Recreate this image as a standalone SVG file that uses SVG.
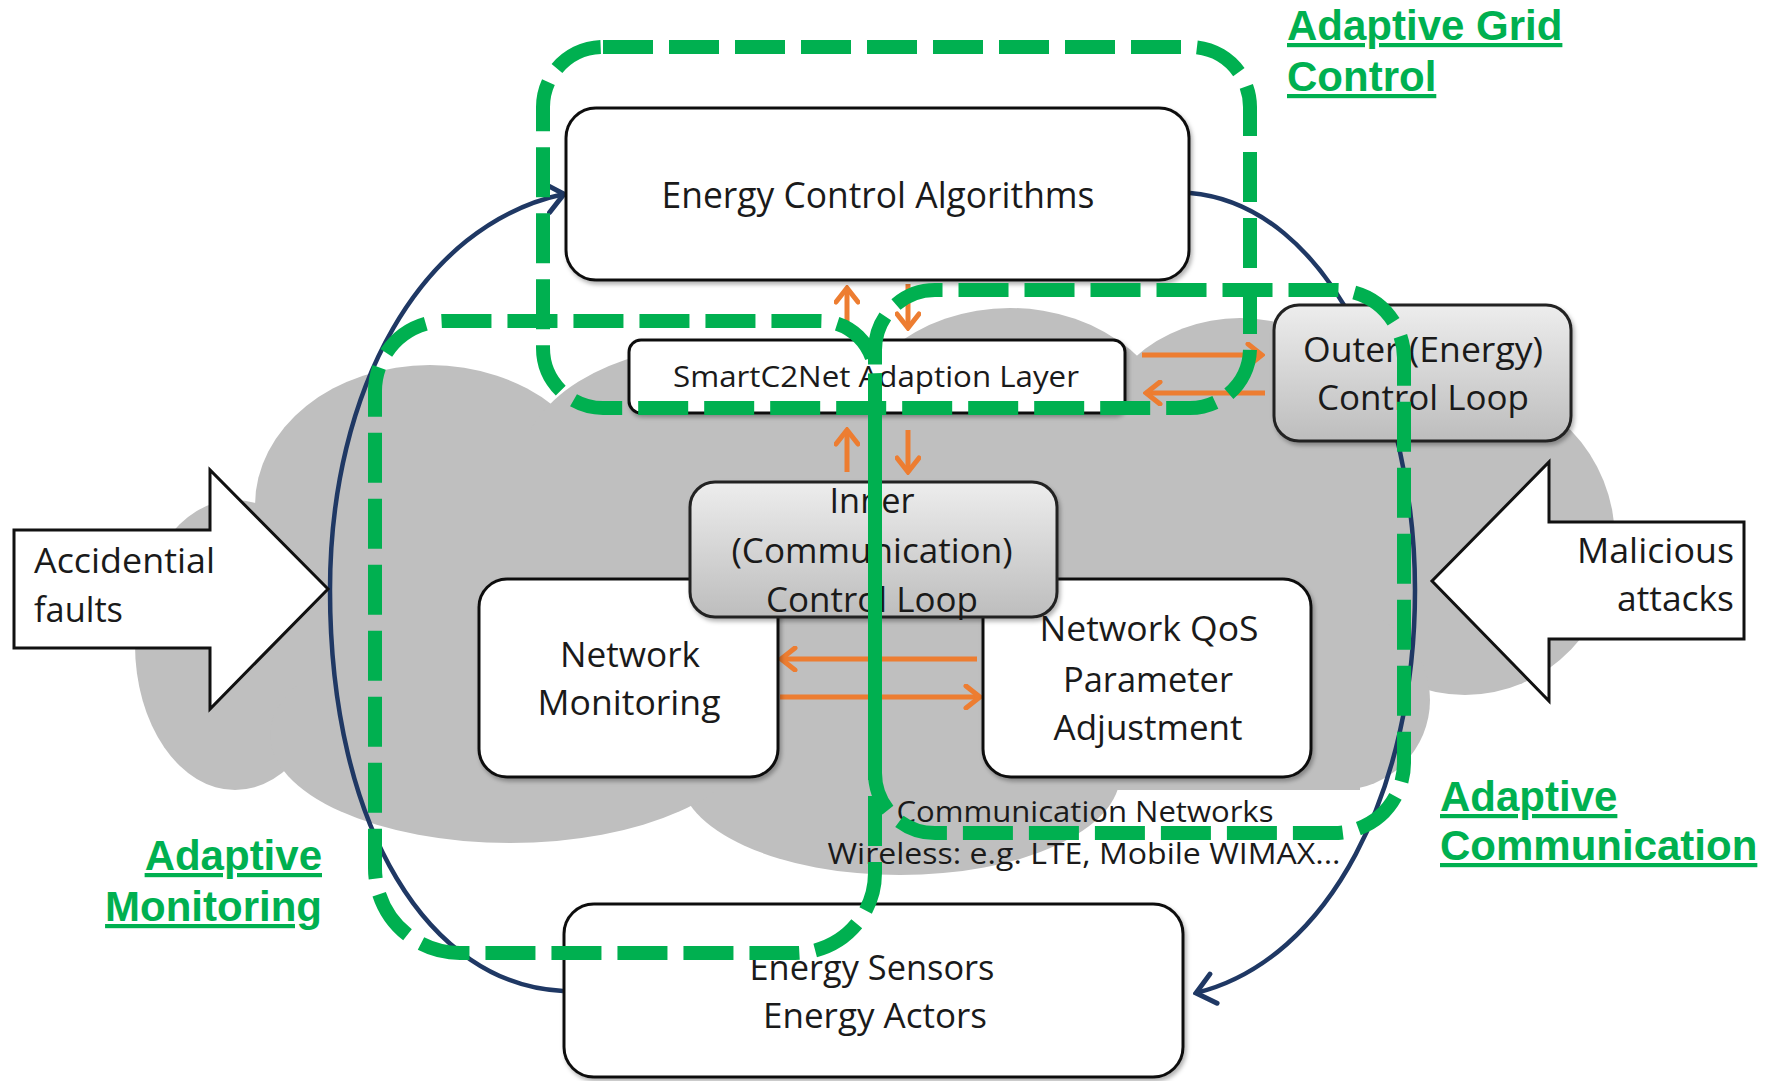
<svg xmlns="http://www.w3.org/2000/svg" width="1776" height="1081" viewBox="0 0 1776 1081">
  <style>
    .box { fill: #ffffff; stroke: #111111; stroke-width: 3; }
    .loopbox { fill: url(#loopGrad); stroke: #222222; stroke-width: 3; }
    .lbl { font-family: 'Open Sans', 'Noto Sans', sans-serif; fill: #1a1a1a; text-anchor: middle; }
    .big { font-size: 35px; }
    .small { font-size: 29px; }
    .flow { stroke: #ed7d31; stroke-width: 5; fill: none; marker-end: url(#orangeHead); }
    .loop { stroke: #1f3864; stroke-width: 4.5; fill: none; marker-end: url(#navyHead); }
    .zone { fill: none; stroke: #00b050; stroke-width: 14; stroke-dasharray: 50 16; }
    .zlabel { font-family: 'Liberation Sans', Arial, sans-serif; font-weight: bold; font-size: 42px; fill: #00b050; text-decoration: underline; }
    .threat { fill: #ffffff; stroke: #111111; stroke-width: 3; stroke-linejoin: miter; }
  </style>
  <defs>
    <linearGradient id="loopGrad" x1="0" y1="0" x2="0" y2="1">
      <stop offset="0" stop-color="#ededed"/>
      <stop offset="1" stop-color="#bdbdbd"/>
    </linearGradient>
    <filter id="shadow" x="-10%" y="-10%" width="120%" height="130%">
      <feDropShadow dx="2" dy="3" stdDeviation="2" flood-color="#000000" flood-opacity="0.3"/>
    </filter>
    <marker id="orangeHead" viewBox="0 0 20 26" refX="17" refY="13" markerWidth="20" markerHeight="26" markerUnits="userSpaceOnUse" orient="auto">
      <path d="M3,2 L17,13 L3,24" fill="none" stroke="#ed7d31" stroke-width="5" stroke-linecap="round"/>
    </marker>
    <marker id="navyHead" viewBox="0 0 24 36" refX="21" refY="18" markerWidth="24" markerHeight="36" markerUnits="userSpaceOnUse" orient="auto">
      <path d="M3,3 L21,18 L3,33" fill="none" stroke="#1f3864" stroke-width="5" stroke-linecap="round"/>
    </marker>
  </defs>

  <rect width="1776" height="1081" fill="#ffffff"/>

  <!-- communication network cloud -->
  <g id="cloud" fill="#bfbfbf">
    <ellipse cx="235" cy="645" rx="100" ry="145"/>
    <ellipse cx="430" cy="505" rx="175" ry="140"/>
    <ellipse cx="720" cy="470" rx="200" ry="125"/>
    <ellipse cx="1010" cy="450" rx="170" ry="142"/>
    <ellipse cx="1240" cy="455" rx="150" ry="137"/>
    <ellipse cx="1465" cy="540" rx="150" ry="155"/>
    <ellipse cx="900" cy="775" rx="220" ry="100"/>
    <ellipse cx="510" cy="735" rx="240" ry="108"/>
    <ellipse cx="1340" cy="700" rx="90" ry="90"/>
    <rect x="400" y="430" width="960" height="360"/>
    <rect x="300" y="430" width="120" height="300"/>
  </g>

  <!-- connectors: energy loop and data flows -->
  <g id="connectors">
    <path class="loop" d="M563,991 C430,985 330,830 330,590 C330,390 420,225 564,194"/>
    <path class="loop" d="M1190,193 C1330,205 1415,400 1415,590 C1415,790 1330,960 1196,993"/>
    <path class="flow" d="M847,330 L847,288"/>
    <path class="flow" d="M908,284 L908,328"/>
    <path class="flow" d="M847,472 L847,430"/>
    <path class="flow" d="M908,430 L908,472"/>
    <path class="flow" d="M1142,355 L1262,355"/>
    <path class="flow" d="M1265,393 L1146,393"/>
    <path class="flow" d="M977,659 L781,659"/>
    <path class="flow" d="M780,697 L980,697"/>
  </g>

  <g id="energy-control">
    <rect class="box" x="566" y="108" width="623" height="172" rx="30" filter="url(#shadow)"/>
    <text class="lbl" x="878" y="208" font-size="36" textLength="433" lengthAdjust="spacingAndGlyphs">Energy Control Algorithms</text>
  </g>

  <g id="adaption-layer">
    <rect class="box" x="629" y="340" width="496" height="73" rx="12" filter="url(#shadow)"/>
    <text class="lbl small" x="876" y="387" textLength="406" lengthAdjust="spacingAndGlyphs">SmartC2Net Adaption Layer</text>
  </g>

  <g id="outer-loop">
    <rect class="loopbox" x="1274" y="305" width="297" height="136" rx="25" filter="url(#shadow)"/>
    <text class="lbl big" x="1423" y="362" textLength="240" lengthAdjust="spacingAndGlyphs">Outer (Energy)</text>
    <text class="lbl big" x="1423" y="410" textLength="212" lengthAdjust="spacingAndGlyphs">Control Loop</text>
  </g>

  <g id="network-monitoring">
    <rect class="box" x="479" y="579" width="299" height="198" rx="28" filter="url(#shadow)"/>
    <text class="lbl big" x="630" y="667" textLength="140" lengthAdjust="spacingAndGlyphs">Network</text>
    <text class="lbl big" x="629" y="715" textLength="183" lengthAdjust="spacingAndGlyphs">Monitoring</text>
  </g>

  <g id="qos-adjustment">
    <rect class="box" x="983" y="579" width="328" height="198" rx="28" filter="url(#shadow)"/>
    <text class="lbl big" x="1149" y="641" textLength="219" lengthAdjust="spacingAndGlyphs">Network QoS</text>
    <text class="lbl big" x="1148" y="692" textLength="170" lengthAdjust="spacingAndGlyphs">Parameter</text>
    <text class="lbl big" x="1148" y="740" textLength="189" lengthAdjust="spacingAndGlyphs">Adjustment</text>
  </g>

  <g id="inner-loop">
    <rect class="loopbox" x="690" y="482" width="367" height="135" rx="25" filter="url(#shadow)"/>
    <text class="lbl big" x="872" y="513" textLength="85" lengthAdjust="spacingAndGlyphs">Inner</text>
    <text class="lbl big" x="872" y="563" textLength="281" lengthAdjust="spacingAndGlyphs">(Communication)</text>
    <text class="lbl big" x="872" y="612" textLength="212" lengthAdjust="spacingAndGlyphs">Control Loop</text>
  </g>

  <g id="comm-networks">
    <text class="lbl small" x="1085" y="822" textLength="377" lengthAdjust="spacingAndGlyphs">Communication Networks</text>
    <text class="lbl small" x="1084" y="864" textLength="513" lengthAdjust="spacingAndGlyphs">Wireless: e.g. LTE, Mobile WIMAX...</text>
  </g>

  <g id="energy-devices">
    <rect class="box" x="564" y="904" width="619" height="173" rx="30" filter="url(#shadow)"/>
    <text class="lbl big" x="872" y="980" textLength="245" lengthAdjust="spacingAndGlyphs">Energy Sensors</text>
    <text class="lbl big" x="875" y="1028" textLength="224" lengthAdjust="spacingAndGlyphs">Energy Actors</text>
  </g>

  <g id="accidental-faults">
    <polygon class="threat" points="14,530 210,530 210,470 328,589 210,709 210,648 14,648"/>
    <text class="lbl big" x="34" y="573" style="text-anchor:start" textLength="181" lengthAdjust="spacingAndGlyphs">Accidential</text>
    <text class="lbl big" x="34" y="622" style="text-anchor:start" textLength="89" lengthAdjust="spacingAndGlyphs">faults</text>
  </g>

  <g id="malicious-attacks">
    <polygon class="threat" points="1744,522 1549,522 1549,462 1432,581 1549,701 1549,639 1744,639"/>
    <text class="lbl big" x="1734" y="563" style="text-anchor:end" textLength="157" lengthAdjust="spacingAndGlyphs">Malicious</text>
    <text class="lbl big" x="1734" y="611" style="text-anchor:end" textLength="117" lengthAdjust="spacingAndGlyphs">attacks</text>
  </g>

  <!-- adaptive zones (dashed outlines) -->
  <g id="zone-grid-control">
    <rect class="zone" x="543" y="47" width="707" height="361" rx="60"/>
    <text class="zlabel" x="1287" y="40">Adaptive Grid</text>
    <text class="zlabel" x="1287" y="91">Control</text>
  </g>

  <g id="zone-monitoring">
    <path class="zone" d="M875,400 V873 A80,80 0 0 1 795,953 H460 A85,85 0 0 1 375,868 V391 A70,70 0 0 1 445,321 H820 A55,55 0 0 1 875,376 Z"/>
    <text class="zlabel" x="322" y="870" text-anchor="end">Adaptive</text>
    <text class="zlabel" x="322" y="921" text-anchor="end">Monitoring</text>
  </g>

  <g id="zone-communication">
    <path class="zone" stroke-dashoffset="33" d="M875,400 V773 A60,60 0 0 0 935,833 H1334 A70,70 0 0 0 1404,763 V358 A68,68 0 0 0 1336,290 H935 A60,60 0 0 0 875,350 Z"/>
    <text class="zlabel" x="1440" y="811">Adaptive</text>
    <text class="zlabel" x="1440" y="860">Communication</text>
  </g>
</svg>
